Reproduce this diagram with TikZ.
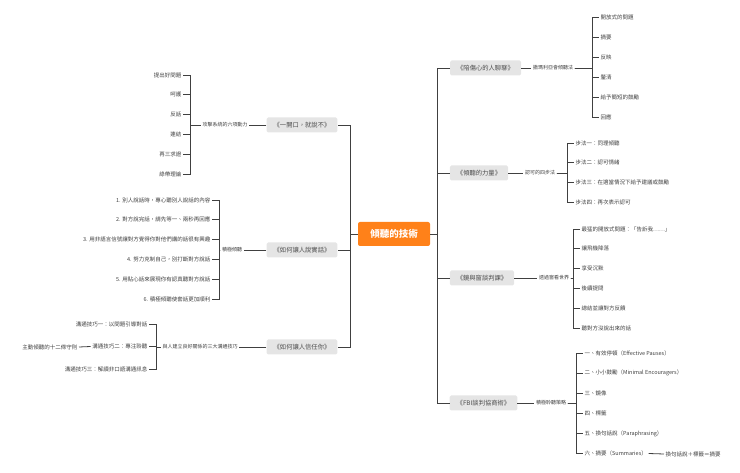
\documentclass[tikz,border=0pt]{standalone}
\usepackage{fontspec}
\setmainfont{Noto Sans CJK TC}
\begin{document}
\begin{tikzpicture}[x=1pt,y=-1pt,
  ln/.style={draw=black!75,line width=0.8pt},
  title/.style={fill=black!10,rounded corners=1.5pt,minimum height=15pt,font=\fontsize{6.3}{7}\selectfont,text=black!70,inner xsep=7pt},
  sub/.style={font=\fontsize{5}{6}\selectfont,text=black!75,inner sep=1.5pt},
  lf/.style={font=\fontsize{5.5}{6}\selectfont,text=black!75,inner sep=1.5pt,anchor=west},
  lfl/.style={font=\fontsize{5.5}{6}\selectfont,text=black!75,inner sep=1.5pt,anchor=east}]
\useasboundingbox (0,0) rectangle (740,473);
\node[fill=orange!90!red!90,text=white,font=\fontsize{9.5}{11}\selectfont\bfseries,rounded corners=2pt,minimum width=72pt,minimum height=24pt] (c) at (394,234) {傾聽的技術};
% right titles
\node[title,minimum width=71pt] (r1) at (485.5,68) {《陪傷心的人聊聊》};
\node[title,minimum width=58pt] (r2) at (479,173) {《傾聽的力量》};
\node[title,minimum width=64pt] (r3) at (482,278) {《鏡與窗談判課》};
\node[title,minimum width=67pt] (r4) at (483.5,403) {《FBI談判協商術》};
\foreach \n in {r1,r2,r3,r4} \draw[ln] (c.east) -- (437,234) |- (\n.west);
% left titles
\node[title,minimum width=70pt] (l1) at (302,125) {《一開口，就說不》};
\node[title,minimum width=70pt] (l2) at (302,250) {《如何讓人說實話》};
\node[title,minimum width=70pt] (l3) at (302,347) {《如何讓人信任你》};
\foreach \n in {l1,l2,l3} \draw[ln] (c.west) -- (350,234) |- (\n.east);
% r1
\node[sub] (s1) at (553,68) {撒瑪利亞會傾聽法};
\draw[ln] (r1.east) -- (s1.west);
\foreach \t [count=\i] in {開放式的問題,摘要,反映,釐清,給予簡短的鼓勵,回應}{
  \node[lf] (a\i) at (599,{17+(\i-1)*20}) {\t};
  \draw[ln] (s1.east) -- (592,68) |- (a\i.west);}
% r2
\node[sub] (s2) at (540,173) {認可的四步法};
\draw[ln] (r2.east) -- (s2.west);
\foreach \t [count=\i] in {步法一：同理傾聽,步法二：認可情緒,步法三：在適當情況下給予建議或鼓勵,步法四：再次表示認可}{
  \node[lf] (b\i) at (574,{143+(\i-1)*19.7}) {\t};
  \draw[ln] (s2.east) -- (567,173) |- (b\i.west);}
% r3
\node[sub] (s3) at (554,278) {透過窗看世界};
\draw[ln] (r3.east) -- (s3.west);
\foreach \t [count=\i] in {最猛的開放式問題：「告訴我……」,讓飛機降落,享受沉默,後續提問,總結並讓對方反饋,聽對方沒說出來的話}{
  \node[lf] (d\i) at (580,{229+(\i-1)*19.8}) {\t};
  \draw[ln] (s3.east) -- (573,278) |- (d\i.west);}
% r4
\node[sub] (s4) at (551,403) {積極聆聽策略};
\draw[ln] (r4.east) -- (s4.west);
\foreach \t [count=\i] in {一、有效停頓（Effective Pauses）,二、小小鼓勵（Minimal Encouragers）,三、鏡像,四、標籤,五、換句話說（Paraphrasing）,六、摘要（Summaries）}{
  \node[lf] (e\i) at (583,{353+(\i-1)*20.1}) {\t};
  \draw[ln] (s4.east) -- (576,403) |- (e\i.west);}
\node[lf] (e7) at (664,454) {換句話說＋標籤＝摘要};
\draw[ln] (e6.east) -- (e7.west);
% l1
\node[sub] (t1) at (225,125) {攻擊系統的六項動力};
\draw[ln] (l1.west) -- (t1.east);
\foreach \t [count=\i] in {提出好問題,呵護,反話,連結,再三求證,綠帶理論}{
  \node[lfl] (f\i) at (183,{75+(\i-1)*19.8}) {\t};
  \draw[ln] (t1.west) -- (190,125) |- (f\i.east);}
% l2
\node[sub] (t2) at (232,250) {積極傾聽};
\draw[ln] (l2.west) -- (t2.east);
\foreach \t [count=\i] in {1. 別人說話時，專心聽別人說話的內容,2. 對方說完話，請先等一、兩秒再回應,3. 用非語言信號讓對方覺得你對他們講的話很有興趣,4. 努力克制自己，別打斷對方說話,5. 用貼心話來展現你有認真聽對方說話,6. 積極傾聽使套話更加順利}{
  \node[lfl] (g\i) at (212,{200+(\i-1)*19.8}) {\t};
  \draw[ln] (t2.west) -- (219,250) |- (g\i.east);}
% l3
\node[sub] (t3) at (200,347) {與人建立良好關係的三大溝通技巧};
\draw[ln] (l3.west) -- (t3.east);
\foreach \t [count=\i] in {溝通技巧一：以問題引導對話,溝通技巧二：專注聆聽,溝通技巧三：解讀非口語溝通訊息}{
  \node[lfl] (h\i) at (149,{324+(\i-1)*22.5}) {\t};
  \draw[ln] (t3.west) -- (156,347) |- (h\i.east);}
\node[lfl] (h4) at (79,347) {主動傾聽的十二條守則};
\draw[ln] (h2.west) -- (h4.east);
\end{tikzpicture}
\end{document}
